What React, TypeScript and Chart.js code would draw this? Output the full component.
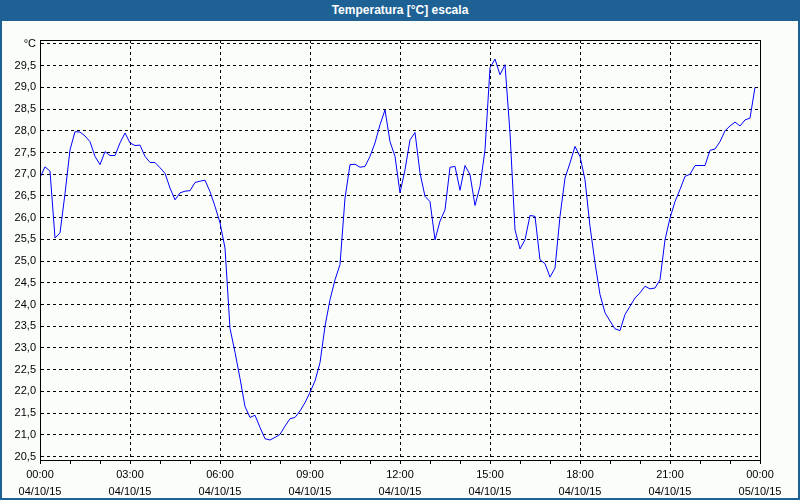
import React, { useEffect, useRef } from "react";
import { Chart, registerables } from "chart.js";

Chart.register(...registerables);

const TITLE = "Temperatura [°C] escala";
const DATE_LABELS = ["04/10/15", "04/10/15", "04/10/15", "04/10/15", "04/10/15", "04/10/15", "04/10/15", "04/10/15", "05/10/15"];
const TIME_LABELS = ["00:00", "03:00", "06:00", "09:00", "12:00", "15:00", "18:00", "21:00", "00:00"];
const Y_TICKS = [20.5, 21, 21.5, 22, 22.5, 23, 23.5, 24, 24.5, 25, 25.5, 26, 26.5, 27, 27.5, 28, 28.5, 29, 29.5, 30];
const UNIT_LABEL = "°C";
const STEP_MINUTES = 10;

const TEMPS = [
  26.92, 27.17, 27.07, 25.53, 25.65, 26.55, 27.56, 27.98, 27.97, 27.88,
  27.75, 27.41, 27.22, 27.52, 27.43, 27.43, 27.72, 27.95, 27.72, 27.66,
  27.67, 27.41, 27.27, 27.27, 27.15, 27.02, 26.68, 26.41, 26.57, 26.61,
  26.62, 26.81, 26.84, 26.86, 26.60, 26.26, 25.88, 25.30, 23.45, 22.90,
  22.30, 21.65, 21.40, 21.45, 21.17, 20.91, 20.88, 20.94, 21.01, 21.20,
  21.37, 21.40, 21.55, 21.74, 21.98, 22.24, 22.66, 23.50, 24.11, 24.57,
  24.92, 26.45, 27.22, 27.23, 27.16, 27.18, 27.41, 27.72, 28.14, 28.48,
  27.75, 27.41, 26.57, 27.10, 27.79, 27.96, 27.03, 26.49, 26.37, 25.49,
  25.92, 26.18, 27.16, 27.18, 26.63, 27.20, 26.99, 26.28, 26.72, 27.56,
  29.45, 29.65, 29.29, 29.52, 27.95, 25.72, 25.28, 25.49, 26.05, 26.03,
  25.03, 24.94, 24.63, 24.84, 26.03, 26.91, 27.26, 27.64, 27.41, 26.87,
  25.80, 24.96, 24.23, 23.81, 23.62, 23.44, 23.40, 23.77, 23.96, 24.15,
  24.27, 24.42, 24.36, 24.38, 24.57, 25.49, 25.99, 26.37, 26.65, 26.95,
  27.00, 27.20, 27.20, 27.20, 27.55, 27.58, 27.75, 28.00, 28.11, 28.20,
  28.11, 28.25, 28.29, 29.00,
];

const FONT = "Tahoma, 'Liberation Sans', sans-serif";

const framePlugin = {
  id: "frame",
  afterDraw(chart: any) {
    const { ctx, chartArea } = chart;
    ctx.save();
    ctx.strokeStyle = "#000";
    ctx.lineWidth = 1;
    ctx.setLineDash([]);
    ctx.strokeRect(
      Math.round(chartArea.left) + 0.5,
      Math.round(chartArea.top) + 0.5,
      Math.round(chartArea.right - chartArea.left),
      Math.round(chartArea.bottom - chartArea.top)
    );
    ctx.restore();
  },
};

function TempChart() {
  const ref = useRef<HTMLCanvasElement | null>(null);
  useEffect(() => {
    if (!ref.current) return;
    const points = TEMPS.map((v, i) => ({ x: (i * STEP_MINUTES) / 60, y: v }));
    const chart = new Chart(ref.current, {
      type: "line",
      data: {
        datasets: [
          {
            data: points,
            borderColor: "#0000ff",
            borderWidth: 1,
            pointRadius: 0,
            tension: 0,
            fill: false,
          },
        ],
      },
      options: {
        animation: false,
        responsive: false,
        maintainAspectRatio: false,
        layout: { padding: { left: 0, top: 40, right: 40, bottom: 0 } },
        plugins: { legend: { display: false }, tooltip: { enabled: false }, title: { display: false } },
        scales: {
          x: {
            type: "linear",
            min: 0,
            max: 24,
            afterFit(scale: any) {
              scale.height = 40;
            },
            afterBuildTicks(scale: any) {
              const t = [];
              for (let h = 0; h <= 24; h++) t.push({ value: h });
              scale.ticks = t;
            },
            ticks: {
              autoSkip: false,
              maxRotation: 0,
              minRotation: 0,
              padding: 2,
              color: "#000",
              font: { family: FONT, size: 11, lineHeight: "17px" },
              callback(value: any) {
                const v = Number(value);
                if (v % 3 !== 0) return "";
                const i = v / 3;
                return [TIME_LABELS[i], DATE_LABELS[i]];
              },
            },
            grid: {
              color: (c: any) => (c.tick && c.tick.value % 3 === 0 ? "#000" : "rgba(0,0,0,0)"),
              tickColor: "#000",
              tickLength: 4,
              lineWidth: 1,
              drawTicks: true,
            },
            border: { display: true, color: "#000", dash: [3, 3] },
          },
          y: {
            type: "linear",
            min: 20.42,
            max: 30.09,
            afterFit(scale: any) {
              scale.width = 40;
            },
            afterBuildTicks(scale: any) {
              scale.ticks = Y_TICKS.map((v) => ({ value: v }));
            },
            ticks: {
              padding: 4,
              color: "#000",
              font: { family: FONT, size: 11 },
              callback(value: any) {
                const v = Number(value);
                if (Math.abs(v - 30) < 1e-6) return UNIT_LABEL;
                return v.toFixed(1).replace(".", ",");
              },
            },
            grid: { color: "#000", drawTicks: false, lineWidth: 1 },
            border: { display: true, color: "#000", dash: [3, 3] },
          },
        },
      },
      plugins: [framePlugin],
    });
    return () => chart.destroy();
  }, []);
  return (
    <canvas
      ref={ref}
      width={800}
      height={500}
      style={{ position: "absolute", left: 0, top: 0, width: 800, height: 500 }}
    />
  );
}

export default function App() {
  return (
    <div
      style={{
        position: "fixed",
        left: 0,
        top: 0,
        width: 800,
        height: 500,
        background: "#FBFDFB",
        overflow: "hidden",
        fontFamily: FONT,
      }}
    >
      <TempChart />
      <div
        style={{
          position: "absolute",
          left: 0,
          top: 0,
          width: 800,
          height: 21,
          background: "#1E6195",
          color: "#fff",
          fontWeight: "bold",
          fontSize: 12,
          lineHeight: "21px",
          textAlign: "center",
        }}
      >
        {TITLE}
      </div>
      <div style={{ position: "absolute", left: 0, top: 21, width: 2, height: 479, background: "#1E6195" }} />
      <div style={{ position: "absolute", right: 0, top: 21, width: 2, height: 479, background: "#1E6195" }} />
      <div style={{ position: "absolute", left: 0, bottom: 0, width: 800, height: 2, background: "#1E6195" }} />
    </div>
  );
}
